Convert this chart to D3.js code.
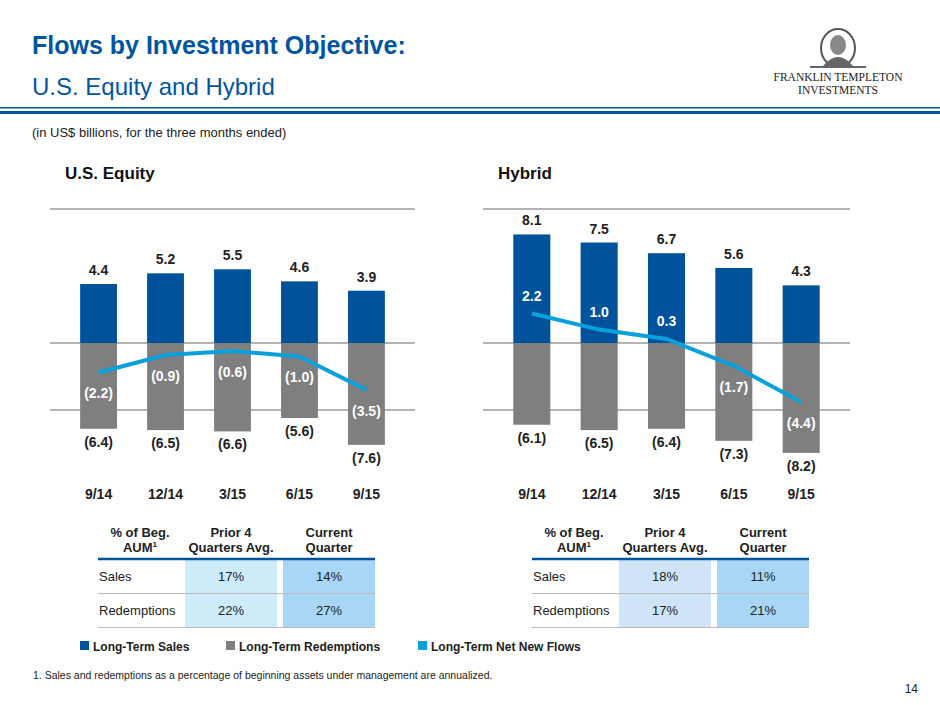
<!DOCTYPE html>
<html><head><meta charset="utf-8">
<script src="https://cdn.jsdelivr.net/npm/d3@7"></script>
<style>body{margin:0;background:#fff}text{font-family:"Liberation Sans",Arial,sans-serif}text.serif{font-family:"Liberation Serif",serif}</style>
</head><body><svg id="c" width="940" height="705"></svg>
<script>
const quarters = ["9/14","12/14","3/15","6/15","9/15"];
const eqSales = [4.4,5.2,5.5,4.6,3.9];
const eqRed = [-6.4,-6.5,-6.6,-5.6,-7.6];
const eqNet = [-2.2,-0.9,-0.6,-1.0,-3.5];
const hySales = [8.1,7.5,6.7,5.6,4.3];
const hyRed = [-6.1,-6.5,-6.4,-7.3,-8.2];
const hyNet = [2.2,1.0,0.3,-1.7,-4.4];
const tableRows = ["Sales","Redemptions"];
const eqTable = [["17%","14%"],["22%","27%"]];
const hyTable = [["18%","11%"],["17%","21%"]];
const gridTicks = [10,0,-5];

const blue="#00529b", gray="#7f7f7f", lblue="#0aa0dc", titleBlue="#0055a0";
const svg=d3.select("#c");
const fmt=v=>v<0?"("+Math.abs(v).toFixed(1)+")":v.toFixed(1);

svg.append("text").attr("x",32).attr("y",54).attr("font-size",25).attr("font-weight","bold").attr("fill",titleBlue).text("Flows by Investment Objective:");
svg.append("text").attr("x",32).attr("y",95).attr("font-size",24).attr("fill",titleBlue).text("U.S. Equity and Hybrid");
svg.append("rect").attr("x",0).attr("y",107).attr("width",940).attr("height",1.5).attr("fill",titleBlue);
svg.append("rect").attr("x",0).attr("y",111).attr("width",940).attr("height",3).attr("fill",titleBlue);
svg.append("text").attr("x",32).attr("y",137).attr("font-size",13).attr("fill","#222").text("(in US$ billions, for the three months ended)");

// logo
const lg=svg.append("g");
lg.append("ellipse").attr("cx",838).attr("cy",48).attr("rx",17).attr("ry",19).attr("fill","#fff").attr("stroke","#555").attr("stroke-width",2);
lg.append("ellipse").attr("cx",838).attr("cy",45).attr("rx",8).attr("ry",10).attr("fill","#888");
lg.append("path").attr("d","M823 66 Q838 48 853 66 Z").attr("fill","#666");
lg.append("rect").attr("x",810).attr("y",66).attr("width",56).attr("height",2).attr("fill","#666");
lg.append("text").attr("class","serif").attr("x",838).attr("y",81).attr("text-anchor","middle").attr("font-size",11.5).attr("fill","#222").text("FRANKLIN TEMPLETON");
lg.append("text").attr("class","serif").attr("x",838).attr("y",94).attr("text-anchor","middle").attr("font-size",11.5).attr("fill","#222").text("INVESTMENTS");

const y=d3.scaleLinear().domain([-10,10]).range([477,209]);

function chart(x0,x1,title,sales,red,net){
  svg.append("text").attr("x",x0+15).attr("y",179).attr("font-size",17).attr("font-weight","bold").attr("fill","#111").text(title);
  const x=d3.scaleBand().domain(quarters).range([x0,x1]).padding(0.45);
  const g=svg.append("g");
  g.selectAll(".gl").data(gridTicks).join("line").attr("x1",x0).attr("x2",x1).attr("y1",d=>y(d)).attr("y2",d=>y(d)).attr("stroke","#9a9a9a").attr("stroke-width",1.3);
  g.selectAll(".s").data(sales).join("rect").attr("x",(d,i)=>x(quarters[i])).attr("width",x.bandwidth()).attr("y",d=>y(d)).attr("height",d=>y(0)-y(d)).attr("fill",blue);
  g.selectAll(".r").data(red).join("rect").attr("x",(d,i)=>x(quarters[i])).attr("width",x.bandwidth()).attr("y",y(0)).attr("height",d=>y(d)-y(0)).attr("fill",gray);
  const cx=i=>x(quarters[i])+x.bandwidth()/2;
  g.append("path").datum(net).attr("fill","none").attr("stroke",lblue).attr("stroke-width",4)
    .attr("d",d3.line().x((d,i)=>cx(i)).y(d=>y(d)));
  const t=(data,yf,fill)=>g.append("g").selectAll("text").data(data).join("text").attr("x",(d,i)=>cx(i)).attr("y",yf)
    .attr("text-anchor","middle").attr("font-size",14).attr("font-weight","bold").attr("fill",fill).text(fmt);
  t(sales,d=>y(d)-9,"#222");
  t(red,d=>y(d)+18,"#222");
  t(net,d=>d>0?y(d)-13:y(d)+26,"#fff");
  g.append("g").selectAll("text").data(quarters).join("text").attr("x",(d,i)=>cx(i)).attr("y",499)
    .attr("text-anchor","middle").attr("font-size",14).attr("font-weight","bold").attr("fill","#222").text(d=>d);
}
chart(50,415,"U.S. Equity",eqSales,eqRed,eqNet);
chart(483,850,"Hybrid",hySales,hyRed,hyNet);

function table(x0,vals,c1){
  const cols=[x0+87,x0+185], w=92;
  const g=svg.append("g");
  [["% of Beg.","AUM"],["Prior 4","Quarters Avg."],["Current","Quarter"]].forEach((h,i)=>{
    const cx=i==0?x0+42:cols[i-1]+w/2;
    g.append("text").attr("x",cx).attr("y",537).attr("text-anchor","middle").attr("font-size",13).attr("font-weight","bold").attr("fill","#222").text(h[0]);
    const t=g.append("text").attr("x",cx).attr("y",552).attr("text-anchor","middle").attr("font-size",13).attr("font-weight","bold").attr("fill","#222").text(h[1]);
    if(i==0) t.append("tspan").attr("font-size",8).attr("dy",-5).text("1");
  });
  tableRows.forEach((r,ri)=>{
    const ty=560+ri*34;
    g.append("rect").attr("x",cols[0]).attr("y",ty).attr("width",w).attr("height",33).attr("fill",c1);
    g.append("rect").attr("x",cols[1]).attr("y",ty).attr("width",w).attr("height",33).attr("fill","#a8d6f4");
    g.append("text").attr("x",x0+1).attr("y",ty+21).attr("font-size",13).attr("fill","#222").text(r);
    vals[ri].forEach((v,ci)=>g.append("text").attr("x",cols[ci]+w/2).attr("y",ty+21).attr("text-anchor","middle").attr("font-size",13).attr("fill","#222").text(v));
    g.append("line").attr("x1",x0).attr("x2",cols[1]+w).attr("y1",ty+33.5).attr("y2",ty+33.5).attr("stroke","#bbb");
  });
  g.append("line").attr("x1",x0).attr("x2",cols[1]+w).attr("y1",559).attr("y2",559).attr("stroke",blue).attr("stroke-width",2.5);
}
table(98,eqTable,"#cdebf9");
table(532,hyTable,"#cfe4f6");

[["Long-Term Sales",blue,80],["Long-Term Redemptions",gray,226],["Long-Term Net New Flows",lblue,418]].forEach(([l,c,x])=>{
  svg.append("rect").attr("x",x).attr("y",641).attr("width",9).attr("height",9).attr("fill",c);
  svg.append("text").attr("x",x+13).attr("y",651).attr("font-size",12).attr("font-weight","bold").attr("fill","#222").text(l);
});
svg.append("text").attr("x",33).attr("y",679).attr("font-size",10.5).attr("fill","#222").text("1.  Sales and redemptions as a percentage of beginning assets under management are annualized.");
svg.append("text").attr("x",918).attr("y",693).attr("text-anchor","end").attr("font-size",12).attr("fill","#222").text("14");
</script></body></html>
